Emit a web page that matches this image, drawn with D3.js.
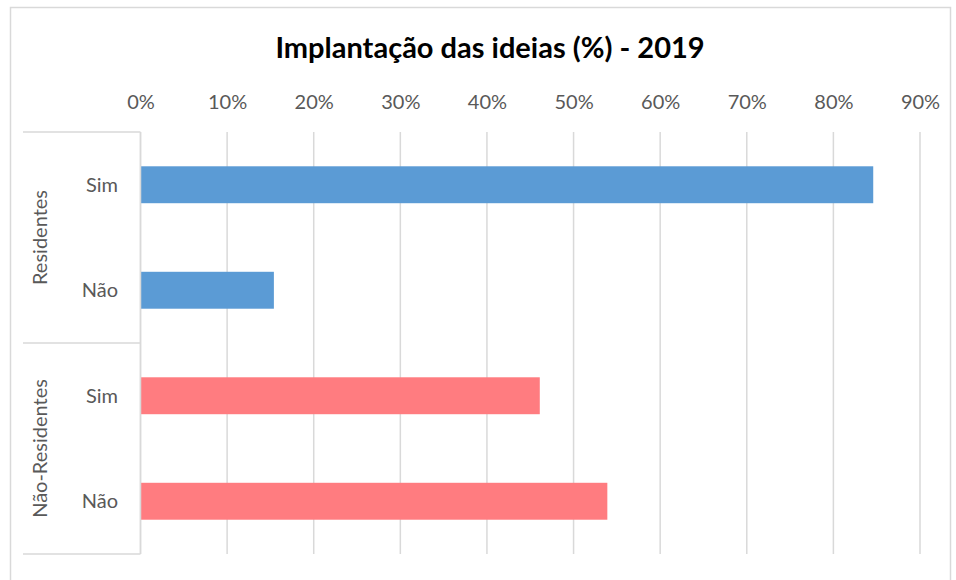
<!DOCTYPE html>
<html>
<head>
<meta charset="utf-8">
<script src="https://cdn.jsdelivr.net/npm/d3@7"></script>
<style>
  body { margin: 0; background: #fff; }
  text { font-family: Lato, "Open Sans", sans-serif; }
</style>
</head>
<body>
<div id="chart"></div>
<script>
// data
var groups = ["Residentes", "Não-Residentes"];
var answers = ["Sim", "Não"];
var residentes = [84.6, 15.4];
var naoResidentes = [46.1, 53.9];
var tickValues = [0, 10, 20, 30, 40, 50, 60, 70, 80, 90];
var groupColors = ["#5B9BD5", "#FF7C80"];

var svgWidth = 956;
var svgHeight = 580;

var margin = { top: 132, right: 36, bottom: 26, left: 140.5 };

var svg = d3.select("#chart")
  .append("svg")
  .attr("width", svgWidth)
  .attr("height", svgHeight);

// outer chart border
svg.append("rect")
  .attr("x", 10.5)
  .attr("y", 7.5)
  .attr("width", 940)
  .attr("height", 580)
  .attr("fill", "none")
  .attr("stroke", "#d9d9d9")
  .attr("stroke-width", 1.5);

// rows built from the arrays
var seriesValues = [residentes, naoResidentes];
var rows = [];
groups.forEach(function(g, gi) {
  answers.forEach(function(a, ai) {
    rows.push({ key: g + "|" + a, group: g, gi: gi, answer: a, value: seriesValues[gi][ai] });
  });
});

var x = d3.scaleLinear()
  .domain([0, 90])
  .range([margin.left, svgWidth - margin.right]);

var y = d3.scaleBand()
  .domain(rows.map(d => d.key))
  .range([margin.top, svgHeight - margin.bottom])
  .paddingInner(0.65)
  .paddingOuter(0.325);

// gridlines
svg.append("g")
  .selectAll("line")
  .data(tickValues)
  .enter()
  .append("line")
  .attr("x1", d => x(d))
  .attr("x2", d => x(d))
  .attr("y1", margin.top)
  .attr("y2", svgHeight - margin.bottom)
  .attr("stroke", "#d9d9d9")
  .attr("stroke-width", 1.5);

// top axis labels
var topAxis = d3.axisTop(x)
  .tickValues(tickValues)
  .tickFormat(d => d + "%")
  .tickSize(0)
  .tickPadding(0);

var axisG = svg.append("g")
  .attr("transform", "translate(0, 109)")
  .call(topAxis);
axisG.select(".domain").remove();
axisG.selectAll("text")
  .attr("font-family", "Lato, 'Open Sans', sans-serif")
  .attr("font-size", "20px")
  .attr("fill", "#595959");

// bars
svg.append("g")
  .selectAll("rect")
  .data(rows)
  .enter()
  .append("rect")
  .attr("x", x(0))
  .attr("y", d => y(d.key))
  .attr("width", d => x(d.value) - x(0))
  .attr("height", y.bandwidth())
  .attr("fill", d => groupColors[d.gi]);

// category axis: answer labels
svg.append("g")
  .selectAll("text")
  .data(rows)
  .enter()
  .append("text")
  .attr("x", 118)
  .attr("y", d => y(d.key) + y.bandwidth() / 2)
  .attr("dy", "0.35em")
  .attr("text-anchor", "end")
  .attr("font-size", "20px")
  .attr("fill", "#595959")
  .text(d => d.answer);

// group boxes
var step = y.step();
var boxLeft = 23;
var groupBounds = groups.map(function(g) {
  var keys = rows.filter(d => d.group === g).map(d => d.key);
  var top = y(keys[0]) - (step - y.bandwidth()) / 2;
  var bottom = y(keys[keys.length - 1]) + y.bandwidth() + (step - y.bandwidth()) / 2;
  return { group: g, top: top, bottom: bottom };
});

var boxLines = [margin.top, groupBounds[0].bottom, svgHeight - margin.bottom];
svg.append("g")
  .selectAll("line")
  .data(boxLines)
  .enter()
  .append("line")
  .attr("x1", boxLeft)
  .attr("x2", x(0))
  .attr("y1", d => d)
  .attr("y2", d => d)
  .attr("stroke", "#d9d9d9")
  .attr("stroke-width", 1.5);

// category axis line
svg.append("line")
  .attr("x1", x(0))
  .attr("x2", x(0))
  .attr("y1", margin.top)
  .attr("y2", svgHeight - margin.bottom)
  .attr("stroke", "#d9d9d9")
  .attr("stroke-width", 1.5);

// group labels, rotated
svg.append("g")
  .selectAll("text")
  .data(groupBounds)
  .enter()
  .append("text")
  .attr("transform", d => `translate(40, ${(d.top + d.bottom) / 2}) rotate(-90)`)
  .attr("dy", "0.35em")
  .attr("text-anchor", "middle")
  .attr("font-size", "20px")
  .attr("fill", "#595959")
  .text(d => d.group);

// title
svg.append("text")
  .attr("x", 490)
  .attr("y", 58)
  .attr("text-anchor", "middle")
  .attr("font-size", "29px")
  .attr("font-weight", "bold")
  .attr("fill", "#000")
  .text("Implantação das ideias (%) - 2019");
</script>
</body>
</html>
